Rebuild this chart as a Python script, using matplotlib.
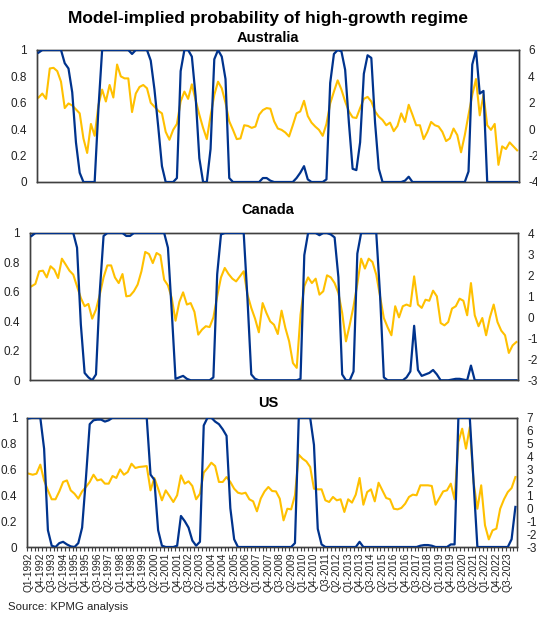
import numpy as np
import matplotlib
matplotlib.use("Agg")
import matplotlib.pyplot as plt

plt.rcParams["font.family"] = ["Liberation Sans", "DejaVu Sans"]
plt.rcParams["axes.unicode_minus"] = False

# ---- data: quarterly, Q1-1992 .. Q1-2024 ----
QUARTERS = [f"Q{q}-{y}" for y in range(1992, 2025) for q in range(1, 5)][:129]

aus_prob = [
    0.98, 1, 1, 1, 1, 1, 1, 0.9, 0.86, 0.68, 0.3, 0.07, 0, 0, 0, 0, 0.55, 1, 1, 1,
    1, 1, 1, 1, 1, 0.97, 1, 1, 1, 1, 0.92, 0.7, 0.42, 0.12, 0, 0, 0, 0.03, 0.84, 1,
    1, 0.95, 0.65, 0.18, 0, 0, 0.25, 0.93, 1, 0.95, 0.78, 0.03, 0, 0, 0, 0, 0, 0, 0, 0,
    0.03, 0.03, 0.01, 0, 0, 0, 0, 0, 0, 0.03, 0.07, 0.12, 0.02, 0, 0, 0, 0, 0.02, 0.75, 0.97,
    1, 0.99, 0.85, 0.45, 0.1, 0.09, 0.3, 0.82, 0.96, 0.94, 0.45, 0.1, 0, 0, 0, 0, 0, 0, 0.01, 0.04,
    0, 0, 0, 0, 0, 0, 0, 0, 0, 0, 0, 0, 0, 0, 0, 0.08, 0.89, 1, 0.67, 0.69,
    0, 0, 0, 0, 0, 0, 0, 0, 0,
]
aus_growth = [
    2.4, 2.7, 2.3, 4.6, 4.65, 4.4, 3.6, 1.6, 1.95, 1.8, 1.5, 1.2, -0.7, -1.8, 0.4, -0.5, 1.8, 3.0, 2.1, 3.35,
    2.4, 4.9, 4.0, 3.85, 3.85, 1.3, 2.7, 3.2, 3.35, 3.1, 2.0, 1.7, 1.4, 1.2, -0.2, -0.8, -0.05, 0.4, 2.1, 2.85,
    2.3, 3.4, 2.2, 1.1, 0.1, -0.75, 1.0, 2.6, 3.6, 3.1, 2.0, 0.6, -0.05, -0.75, -0.7, 0.3, 0.25, 0.1, 0.2, 1.1,
    1.45, 1.6, 1.55, 0.6, 0.05, -0.05, -0.25, -0.55, 0.3, 1.2, 1.35, 2.15, 1.0, 0.5, 0.2, -0.05, -0.5, 0.4, 1.95, 2.85,
    3.7, 3.0, 2.1, 1.35, 0.9, 0.85, 1.6, 2.3, 2.45, 2.1, 1.35, 0.95, 0.7, 0.3, 0.5, -0.15, 0.25, 1.2, 0.55, 1.85,
    1.1, 0.3, 0.3, -0.75, -0.2, 0.55, 0.3, 0.2, -0.2, -0.9, -0.7, 0.05, -0.45, -1.75, -0.45, 1.1, 2.6, 3.8, 1.05, 2.6,
    0.3, -0.05, 0.4, -2.7, -1.3, -1.5, -1.0, -1.3, -1.6,
]

can_prob = [
    0.98, 1, 1, 1, 1, 1, 1, 1, 1, 1, 1, 1, 0.9, 0.38, 0.05, 0.02, 0, 0.04, 0.6, 0.98,
    1, 1, 1, 1, 1, 0.98, 0.98, 1, 1, 1, 1, 1, 1, 1, 1, 1, 0.9, 0.47, 0.01, 0.02,
    0.03, 0.01, 0, 0, 0, 0, 0, 0, 0.02, 0.72, 0.99, 1, 1, 1, 1, 1, 1, 0.55, 0.04, 0.01,
    0, 0, 0, 0, 0, 0, 0, 0, 0, 0, 0, 0.01, 0.85, 1, 1, 1, 0.985, 1, 1, 0.99,
    0.97, 0.7, 0.04, 0, 0, 0.06, 0.86, 1, 1, 1, 1, 1, 0.58, 0.02, 0, 0, 0, 0, 0, 0.02,
    0.06, 0.37, 0.07, 0.03, 0.04, 0.05, 0.07, 0.04, 0, 0, 0, 0.005, 0.01, 0.01, 0.005, 0, 0.1, 0, 0, 0,
    0, 0, 0, 0, 0, 0, 0, 0, 0,
]
can_growth = [
    1.47, 1.58, 2.18, 2.21, 1.89, 2.42, 2.26, 1.86, 2.78, 2.5, 2.21, 2.02, 1.47, 0.91, 0.52, 0.63, -0.07, 0.36, 1.07, 1.89,
    2.46, 2.46, 1.89, 1.62, 2.05, 0.99, 1.02, 1.23, 1.55, 2.18, 3.1, 3.0, 2.57, 3.05, 2.94, 1.78, 1.51, 0.91, -0.17, 0.72,
    1.18, 0.6, 0.67, 0.25, -0.83, -0.59, -0.43, -0.47, -0.01, 0.99, 1.89, 2.34, 2.05, 1.83, 1.7, 1.94, 2.18, 1.07, 0.44, -0.07,
    -0.72, 0.67, 0.2, -0.2, -0.36, -0.8, 0.31, -0.51, -1.15, -2.18, -2.41, 0.12, 1.47, 1.89, 1.62, 1.83, 1.07, 1.23, 1.99, 1.89,
    1.62, 1.15, 0.2, -1.15, -0.36, 0.52, 1.58, 2.78, 2.31, 2.78, 2.62, 2.02, 0.99, -0.04, -0.48, -0.86, 0.52, -0.01, 0.52, 0.6,
    0.52, 1.94, 0.6, 0.44, 0.83, 0.78, 1.26, 0.99, -0.28, -0.39, -0.23, 0.41, 0.52, 0.88, 0.78, 0.09, 1.62, 0.09, -0.43, -0.04,
    -0.86, -0.01, 0.6, -0.23, -0.64, -0.86, -1.7, -1.34, -1.18,
]

us_prob = [
    0.995, 1, 1, 1, 0.76, 0.13, 0.01, 0, 0.03, 0.04, 0.02, 0.005, 0, 0.03, 0.15, 0.53, 0.95, 0.98, 0.985, 0.985,
    0.97, 0.98, 1, 1, 1, 1, 1, 1, 1, 1, 1, 1, 0.56, 0.52, 0.13, 0.01, 0, 0, 0, 0.01,
    0.24, 0.2, 0.15, 0.05, 0.01, 0.04, 0.94, 1, 1, 0.97, 0.95, 0.91, 0.86, 0.3, 0.06, 0, 0, 0, 0, 0,
    0, 0, 0, 0, 0, 0, 0, 0, 0, 0, 0.03, 1, 1, 1, 1, 0.79, 0.14, 0.02, 0, 0,
    0, 0, 0, 0, 0, 0, 0, 0.04, 0, 0, 0, 0, 0, 0, 0, 0, 0, 0, 0, 0,
    0, 0, 0, 0.01, 0.015, 0.015, 0.01, 0, 0, 0, 0, 0.02, 0.02, 1, 1, 1, 1, 0.5, 0, 0,
    0, 0, 0, 0, 0, 0, 0, 0.06, 0.31,
]
us_growth = [
    2.67, 2.59, 2.67, 3.37, 2.15, 1.38, 0.69, 0.69, 1.3, 2.03, 2.15, 1.38, 1.12, 0.74, 1.3, 1.64, 2.03, 2.59, 2.15, 2.23,
    1.9, 1.9, 2.49, 2.34, 3.0, 2.59, 2.8, 3.44, 3.11, 3.19, 3.22, 3.26, 1.38, 2.34, 1.51, 0.61, 1.38, 0.94, 0.48, 1.0,
    2.54, 1.9, 2.08, 1.72, 0.69, 1.12, 2.75, 3.11, 3.52, 3.26, 2.03, 2.03, 2.41, 2.03, 1.51, 1.2, 1.12, 1.2, 0.69, 0.53,
    -0.24, 0.75, 1.3, 1.64, 1.33, 1.3, 0.74, -0.94, -0.04, -0.09, 1.0, 4.14, 3.83, 3.62, 3.19, 1.51, 1.46, 1.46, 0.61, 0.48,
    0.87, 0.61, 0.69, -0.29, 0.69, 0.43, 1.05, 2.34, 0.27, 1.25, 1.46, 0.53, 1.97, 1.38, 0.79, 0.69, -0.04, -0.09, 0.02, 0.35,
    0.87, 1.05, 1.0, 1.77, 1.77, 1.77, 1.72, 0.27, 0.79, 1.3, 1.38, 1.9, 0.69, 5.12, 6.15, 4.6, 6.28, 2.0, -0.04, 1.77,
    -1.32, -2.41, -1.71, -1.58, -0.04, 0.69, 1.25, 1.56, 2.41,
]

PANELS = [
    ("Australia", aus_prob, aus_growth, (-4, 6), 2),
    ("Canada", can_prob, can_growth, (-3, 4), 1),
    ("US", us_prob, us_growth, (-3, 7), 1),
]

BLUE = "#00338D"
GOLD = "#FFC000"
FRAME = "#404040"

# axes boxes in figure pixels: (left, top, right, bottom), panel title y
BOXES = [
    (36.7, 50.0, 519.0, 182.0, 38),
    (29.7, 233.0, 518.3, 380.3, 210),
    (27.0, 417.7, 517.3, 547.0, 403),
]
W, H = 537, 620

fig = plt.figure(figsize=(W / 100, H / 100), dpi=100)
x = np.arange(len(QUARTERS))

for k, (name, prob, growth, rlim, rstep) in enumerate(PANELS):
    l, t, r, b, ty = BOXES[k]
    ax = fig.add_axes([l / W, 1 - b / H, (r - l) / W, (b - t) / H])
    ax2 = ax.twinx()

    ax2.plot(x, growth, color=GOLD, lw=1.5, zorder=2)
    ax.plot(x, prob, color=BLUE, lw=1.6, zorder=3)
    ax.set_zorder(ax2.get_zorder() + 1)
    ax.patch.set_visible(False)

    ax.set_xlim(-0.5, len(x) - 0.5)
    ax.set_ylim(0, 1)
    ax2.set_ylim(*rlim)
    ax.set_yticks([0, 0.2, 0.4, 0.6, 0.8, 1])
    ax.set_yticklabels(["0", "0.2", "0.4", "0.6", "0.8", "1"])
    ax2.set_yticks(np.arange(rlim[0], rlim[1] + 0.1, rstep))
    ax.tick_params(axis="y", length=0, pad=7, labelsize=8.5, colors="#222222")
    ax2.tick_params(axis="y", length=0, pad=6.5, labelsize=8.5, colors="#222222")

    for a in (ax, ax2):
        for s in a.spines.values():
            s.set_color(FRAME)
            s.set_linewidth(1.0)

    if name == "US":
        ticks = x[::3]
        ax.set_xticks(ticks)
        ax.set_xticklabels([QUARTERS[i] for i in ticks], rotation=90, fontsize=7.3)
        ax.set_xticks(np.arange(len(x) + 1) - 0.5, minor=True)
        ax.tick_params(axis="x", which="major", length=0, pad=4, colors="#222222")
        ax.tick_params(axis="x", which="minor", length=3, width=0.8, color=FRAME)
    else:
        ax.set_xticks([])

    fig.text(268 / W, 1 - ty / H, name, ha="center", va="center",
             fontsize=10.5, fontweight="bold")

fig.text(268 / W, 1 - 18 / H, "Model-implied probability of high-growth regime",
         ha="center", va="center", fontsize=12.5, fontweight="bold")
fig.text(8 / W, 1 - 607 / H, "Source: KPMG analysis", ha="left", va="center",
         fontsize=8.2, color="#222222")

fig.savefig("out.png", dpi=100)
